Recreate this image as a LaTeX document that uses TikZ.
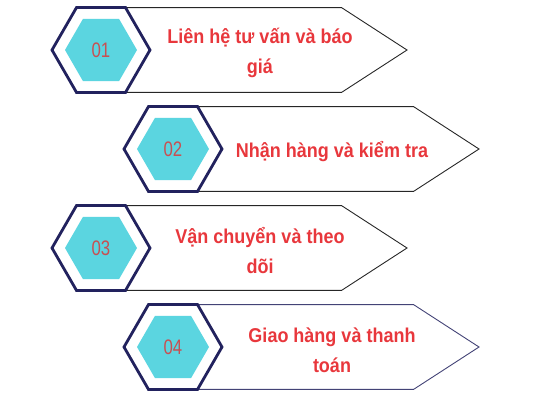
\documentclass[tikz,border=0pt]{standalone}
\usepackage{fontspec}
\setmainfont{Liberation Sans}
\newfontfamily\stepfont[FakeStretch=0.9]{Liberation Sans}
\newfontfamily\numfont[FakeStretch=0.8]{Liberation Sans}
\usepackage{xcolor}
\definecolor{hexnavy}{RGB}{34,34,94}
\definecolor{hexcyan}{RGB}{91,213,224}
\definecolor{stepred}{RGB}{232,55,60}
\definecolor{numred}{RGB}{200,80,82}
\usepackage{tikz}
\usetikzlibrary{calc}
\usetikzlibrary{backgrounds}
\usetikzlibrary{shapes.geometric}
\newcommand{\sizeouterhex}{98pt}
\newcommand{\sizeinnerhex}{72pt}
\newcommand{\lengthtop}{216}
\newcommand{\lengthtip}{306}
\newcommand{\shifttext}{159}
\tikzset{
    hex-outer/.style={draw=hexnavy, line width=2.8pt, fill=white, regular polygon, regular polygon sides=6,
        minimum size=\sizeouterhex, inner sep=0pt, outer sep=0pt},
    hex-inner/.style={fill=hexcyan, regular polygon, regular polygon sides=6,
        minimum size=\sizeinnerhex, inner sep=0pt, text=numred, font=\numfont\fontsize{21}{21}\selectfont},
    arrow-box/.style={draw=black!85, line width=0.9pt, line join=miter},
    step-text/.style={text=stepred, align=center, yshift=-3pt,
        font=\stepfont\bfseries\fontsize{20}{30}\selectfont}
}

\begin{document}
\begin{tikzpicture}[x=1pt, y=1pt]
    \useasboundingbox (0,0) rectangle (533,-400);

    % hexagons with the step numbers
    \node[hex-outer] (H1) at (101,-50) {};
    \node[hex-inner] (N1) at (H1) {01};
    \node[hex-outer] (H2) at (173,-149) {};
    \node[hex-inner] (N2) at (H2) {02};
    \node[hex-outer] (H3) at (101,-248) {};
    \node[hex-inner] (N3) at (H3) {03};
    \node[hex-outer] (H4) at (173,-347) {};
    \node[hex-inner] (N4) at (H4) {04};

    % step texts
    \node[step-text] (T1) at ($(H1.center)+(\shifttext,0)$) {Liên hệ tư vấn và báo\\giá};
    \node[step-text] (T2) at ($(H2.center)+(\shifttext,0)$) {Nhận hàng và kiểm tra};
    \node[step-text] (T3) at ($(H3.center)+(\shifttext,0)$) {Vận chuyển và theo\\dõi};
    \node[step-text] (T4) at ($(H4.center)+(\shifttext,0)$) {Giao hàng và thanh\\toán};

    % arrow boxes behind the hexagons
    \begin{scope}[on background layer]
        \draw[arrow-box]
            (H1.60) -- ($(H1.60)+(\lengthtop,0)$) -- ($(H1.center)+(\lengthtip,0)$)
            -- ($(H1.-60)+(\lengthtop,0)$) -- (H1.-60);
        \draw[arrow-box]
            (H2.60) -- ($(H2.60)+(\lengthtop,0)$) -- ($(H2.center)+(\lengthtip,0)$)
            -- ($(H2.-60)+(\lengthtop,0)$) -- (H2.-60);
        \draw[arrow-box]
            (H3.60) -- ($(H3.60)+(\lengthtop,0)$) -- ($(H3.center)+(\lengthtip,0)$)
            -- ($(H3.-60)+(\lengthtop,0)$) -- (H3.-60);
        \draw[arrow-box, draw=hexnavy!85]
            (H4.60) -- ($(H4.60)+(\lengthtop,0)$) -- ($(H4.center)+(\lengthtip,0)$)
            -- ($(H4.-60)+(\lengthtop,0)$) -- (H4.-60);
    \end{scope}
\end{tikzpicture}
\end{document}
